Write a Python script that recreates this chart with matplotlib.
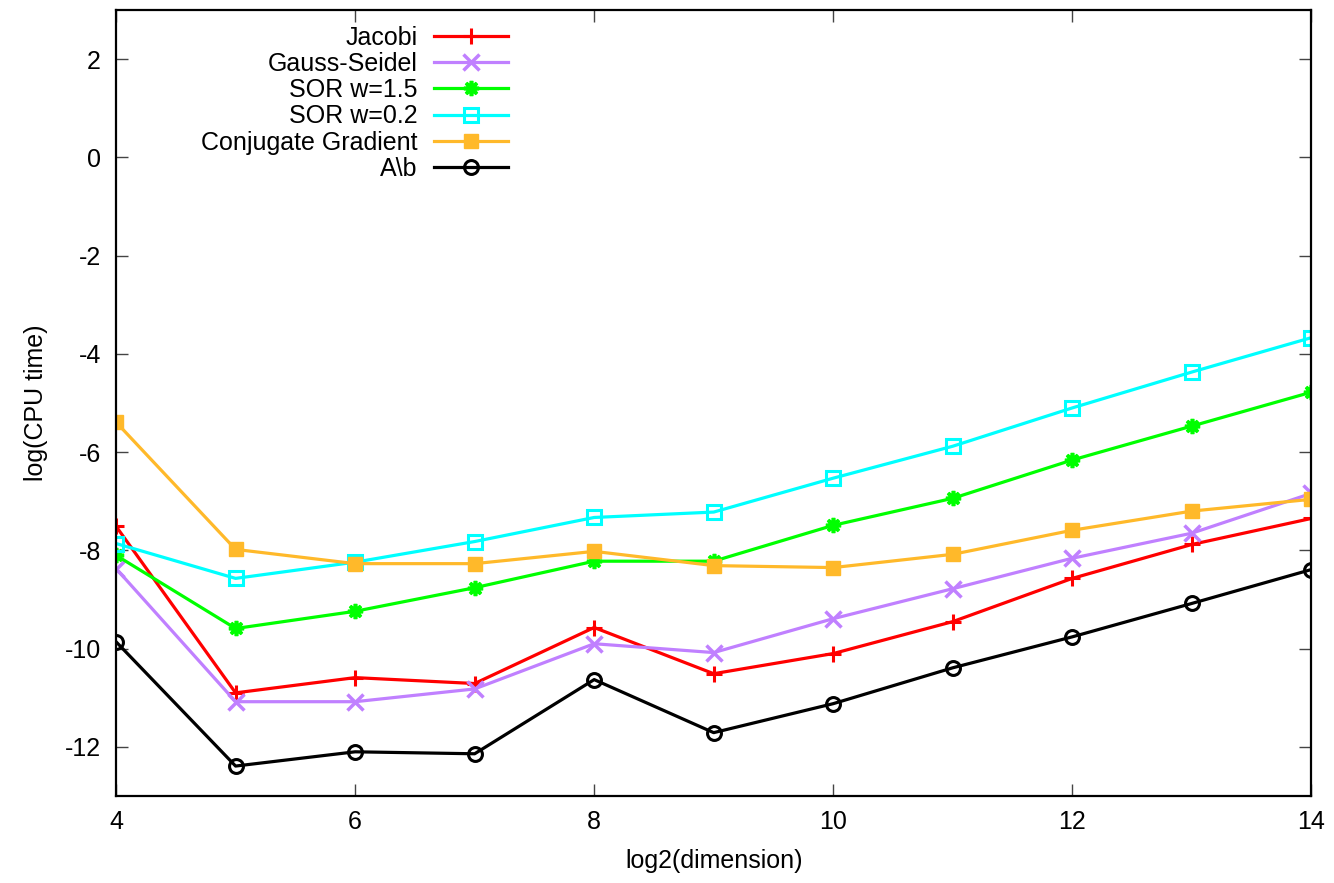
import matplotlib
matplotlib.use("Agg")
import matplotlib.pyplot as plt

plt.rcParams['font.family'] = ['Liberation Sans', 'DejaVu Sans']
plt.rcParams['axes.unicode_minus'] = False

# log2(dimension)
dims = [4, 5, 6, 7, 8, 9, 10, 11, 12, 13, 14]

# log(CPU time) per method
jacobi = [-7.51, -10.90, -10.59, -10.71, -9.57, -10.51, -10.10, -9.45, -8.57, -7.88, -7.35]
gauss_seidel = [-8.37, -11.08, -11.08, -10.82, -9.90, -10.08, -9.39, -8.78, -8.16, -7.65, -6.84]
sor_15 = [-8.10, -9.59, -9.24, -8.76, -8.22, -8.22, -7.49, -6.94, -6.16, -5.47, -4.78]
sor_02 = [-7.86, -8.57, -8.24, -7.82, -7.33, -7.22, -6.53, -5.88, -5.10, -4.37, -3.67]
conj_grad = [-5.39, -7.98, -8.27, -8.27, -8.02, -8.31, -8.35, -8.08, -7.59, -7.20, -6.96]
backslash = [-9.86, -12.39, -12.10, -12.14, -10.63, -11.71, -11.12, -10.39, -9.76, -9.08, -8.39]

fs = 18

fig = plt.figure(figsize=(13.34, 8.83), dpi=100)
ax = fig.add_axes([0.087, 0.0985, 0.896, 0.8902])

lw = 2.3
ax.plot(dims, jacobi, color='#ff0000', lw=lw, marker='+', ms=11, mew=2.2, label='Jacobi')
ax.plot(dims, gauss_seidel, color='#c080ff', lw=lw, marker='x', ms=11, mew=2.5, label='Gauss-Seidel')
ax.plot(dims, sor_15, color='#00ff00', lw=lw, marker=(8, 2, 0), ms=11, mew=2.6, label='SOR w=1.5')
ax.plot(dims, sor_02, color='#00ffff', lw=lw, marker='s', ms=10, mew=2.2, mfc='none', label='SOR w=0.2')
ax.plot(dims, conj_grad, color='#ffb92a', lw=lw, marker='s', ms=9.5, label='Conjugate Gradient')
ax.plot(dims, backslash, color='#000000', lw=lw, marker='o', ms=10, mew=2.2, mfc='none', label='A\\b')

ax.set_xlim(4, 14)
ax.set_ylim(-13, 3)
ax.set_xticks([4, 6, 8, 10, 12, 14])
ax.set_yticks([-12, -10, -8, -6, -4, -2, 0, 2])
ax.tick_params(direction='in', length=8.5, width=1, color='#444444',
               top=True, right=True, labelsize=fs, pad=10)
ax.tick_params(axis='y', pad=11)
for s in ax.spines.values():
    s.set_linewidth(1.6)

ax.set_xlabel('log2(dimension)', fontsize=fs, labelpad=11)
ax.set_ylabel('log(CPU time)', fontsize=fs, labelpad=12)

ax.legend(loc='upper right', bbox_to_anchor=(0.328, 0.98), markerfirst=False, frameon=False,
          fontsize=fs, handlelength=2.95, labelspacing=0.09, handletextpad=0.66,
          borderpad=0, borderaxespad=0)

fig.savefig('out.png', dpi=100)
